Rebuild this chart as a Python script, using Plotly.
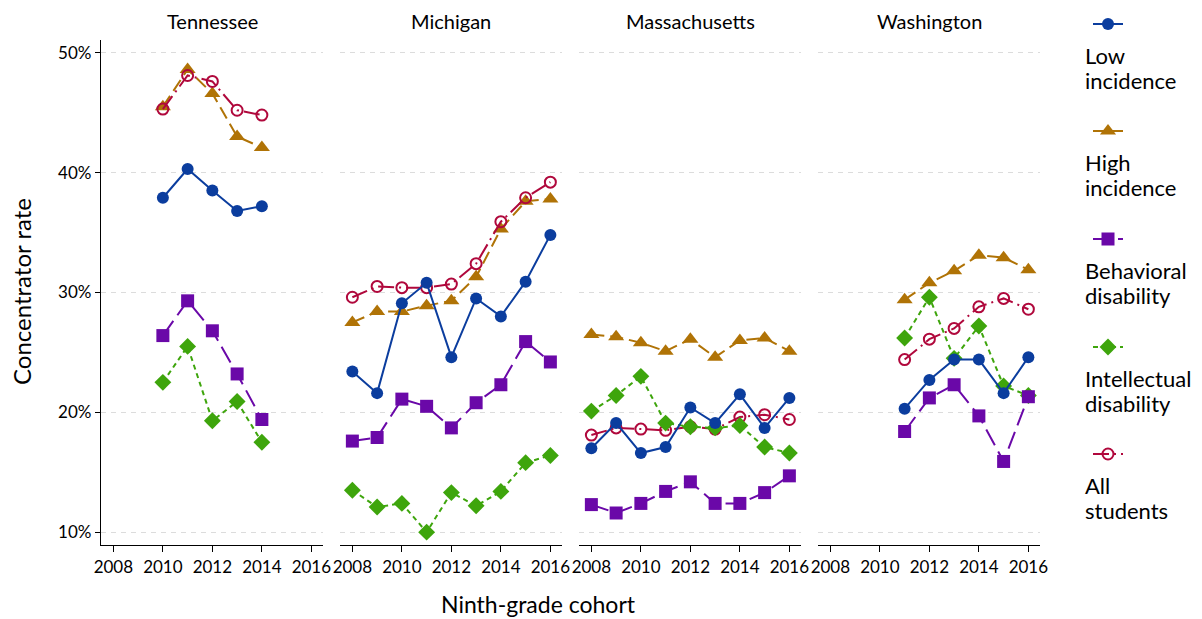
import plotly.graph_objects as go

# ---------------- data ----------------
states = ["Tennessee", "Michigan", "Massachusetts", "Washington"]

years_tn = [2010, 2011, 2012, 2013, 2014]
years_mi = [2008, 2009, 2010, 2011, 2012, 2013, 2014, 2015, 2016]
years_ma = [2008, 2009, 2010, 2011, 2012, 2013, 2014, 2015, 2016]
years_wa = [2011, 2012, 2013, 2014, 2015, 2016]

low_tn = [37.9, 40.3, 38.5, 36.8, 37.2]
high_tn = [45.5, 48.6, 46.6, 43.0, 42.1]
beh_tn = [26.4, 29.3, 26.8, 23.2, 19.4]
int_tn = [22.5, 25.5, 19.3, 20.9, 17.5]
all_tn = [45.3, 48.1, 47.6, 45.2, 44.8]

low_mi = [23.4, 21.6, 29.1, 30.8, 24.6, 29.5, 28.0, 30.9, 34.8]
high_mi = [27.5, 28.4, 28.4, 28.9, 29.3, 31.3, 35.3, 37.6, 37.8]
beh_mi = [17.6, 17.9, 21.1, 20.5, 18.7, 20.8, 22.3, 25.9, 24.2]
int_mi = [13.5, 12.1, 12.4, 10.0, 13.3, 12.2, 13.4, 15.8, 16.4]
all_mi = [29.6, 30.5, 30.4, 30.4, 30.7, 32.4, 35.9, 37.9, 39.2]

low_ma = [17.0, 19.1, 16.6, 17.1, 20.4, 19.1, 21.5, 18.7, 21.2]
high_ma = [26.5, 26.3, 25.8, 25.1, 26.1, 24.6, 26.0, 26.2, 25.1]
beh_ma = [12.3, 11.6, 12.4, 13.4, 14.2, 12.4, 12.4, 13.3, 14.7]
int_ma = [20.1, 21.4, 23.0, 19.1, 18.8, 18.7, 18.9, 17.1, 16.6]
all_ma = [18.1, 18.7, 18.6, 18.5, 18.8, 18.6, 19.6, 19.8, 19.4]

low_wa = [20.3, 22.7, 24.4, 24.4, 21.6, 24.6]
high_wa = [29.4, 30.8, 31.8, 33.1, 32.9, 31.9]
beh_wa = [18.4, 21.2, 22.3, 19.7, 15.9, 21.3]
int_wa = [26.2, 29.6, 24.5, 27.2, 22.2, 21.4]
all_wa = [24.4, 26.1, 27.0, 28.8, 29.5, 28.6]

series_names = ["Low incidence", "High incidence", "Behavioral disability",
                "Intellectual disability", "All students"]
legend_labels = [["Low", "incidence"], ["High", "incidence"], ["Behavioral", "disability"],
                 ["Intellectual", "disability"], ["All", "students"]]

panel_years = [years_tn, years_mi, years_ma, years_wa]
panel_values = [
    [low_tn, high_tn, beh_tn, int_tn, all_tn],
    [low_mi, high_mi, beh_mi, int_mi, all_mi],
    [low_ma, high_ma, beh_ma, int_ma, all_ma],
    [low_wa, high_wa, beh_wa, int_wa, all_wa],
]

y_ticks = [10, 20, 30, 40, 50]
y_ticktext = ["10%", "20%", "30%", "40%", "50%"]
x_ticks = [2008, 2010, 2012, 2014, 2016]

# ---------------- styles ----------------
colors = ["#0b3d9e", "#b07306", "#6a08a8", "#3ea50c", "#b0083c"]
dashes = ["solid", "13px,6px", "18px,7px", "5px,4px", "16px,5px,2px,5px"]
symbols = ["circle", "triangle-up", "square", "diamond", "circle-open"]
msizes = [12, 14, 13, 13, 11]

FONT = "Lato"

# pixel layout
W, H = 1202, 619
L, R, T, B = 101, 162, 40, 74
PW = W - L - R
PH = H - T - B


def px_x(p):
    return (p - L) / PW


def px_y(p):
    return 1 - (p - T) / PH


panel_w = 222
panel_step = 239

fig = go.Figure()

# drawing order (last on top)
draw_order = [1, 4, 3, 2, 0]
for k in range(4):
    xa = "x" if k == 0 else f"x{k+1}"
    ya = "y" if k == 0 else f"y{k+1}"
    for s in draw_order:
        fig.add_trace(go.Scatter(
            x=panel_years[k], y=panel_values[k][s],
            mode="lines+markers",
            name=" ",
            legend="legend" if s == 0 else f"legend{s+1}",
            showlegend=(k == 0),
            line=dict(color=colors[s], width=2, dash=dashes[s]),
            marker=dict(symbol=symbols[s], size=msizes[s], color=colors[s],
                        line=dict(color=colors[s], width=2 if s == 4 else 0)),
            xaxis=xa, yaxis=ya,
            hovertemplate=series_names[s] + " %{x}: %{y}%<extra></extra>",
        ))

layout = dict(
    width=W, height=H,
    margin=dict(l=L, r=R, t=T, b=B, autoexpand=False),
    paper_bgcolor="white", plot_bgcolor="white",
    font=dict(family=FONT, color="black", size=17),
    hovermode="closest",
)

for k in range(4):
    left = k * panel_step / PW
    right = (k * panel_step + panel_w) / PW
    xkey = "xaxis" if k == 0 else f"xaxis{k+1}"
    ykey = "yaxis" if k == 0 else f"yaxis{k+1}"
    layout[xkey] = dict(
        domain=[left, right], range=[2007.5, 2016.47],
        anchor="y" if k == 0 else f"y{k+1}",
        tickvals=x_ticks, ticktext=[str(v) for v in x_ticks],
        ticks="outside", ticklen=6, tickwidth=1.2, tickcolor="black",
        showline=True, linecolor="black", linewidth=1.3,
        showgrid=False, zeroline=False,
        tickfont=dict(size=17, family=FONT),
    )
    layout[ykey] = dict(
        domain=[0, 1], range=[8.93, 51.06],
        anchor="x" if k == 0 else f"x{k+1}",
        tickvals=y_ticks, ticktext=y_ticktext,
        showticklabels=(k == 0),
        ticks="outside" if k == 0 else "", ticklen=5, tickwidth=1.2, tickcolor="black",
        showline=(k == 0), linecolor="black", linewidth=1.3,
        showgrid=True, gridcolor="#dcdcdc", gridwidth=1, griddash="5px,5px",
        zeroline=False,
        tickfont=dict(size=17, family=FONT),
    )

# legends: one per series, keys stacked on the right
legend_sym_y = [23, 130, 238, 346, 453]
for s in range(5):
    key = "legend" if s == 0 else f"legend{s+1}"
    layout[key] = dict(
        x=px_x(1088), xanchor="left",
        y=px_y(legend_sym_y[s] + 1), yanchor="middle",
        bgcolor="rgba(0,0,0,0)", borderwidth=0,
        font=dict(size=12, family=FONT),
        itemwidth=30,
    )

annotations = []
for k, st in enumerate(states):
    cx = px_x(L + k * panel_step + panel_w / 2)
    annotations.append(dict(text=st, x=cx, y=px_y(21), xref="paper", yref="paper",
                            xanchor="center", yanchor="middle", showarrow=False,
                            font=dict(size=20, family=FONT)))

# legend labels: base size 19.2 gives a 25px line pitch, spans enlarge the glyphs
for s in range(5):
    txt = "<br>".join(f"<span style='font-size:22px'>{w}</span>" for w in legend_labels[s])
    annotations.append(dict(text=txt, x=px_x(1083), y=px_y(legend_sym_y[s] + 44.5),
                            xref="paper", yref="paper", xanchor="left", yanchor="middle",
                            align="left", showarrow=False,
                            font=dict(size=19.2, family=FONT)))

annotations.append(dict(text="Concentrator rate", x=px_x(21), y=px_y(292), xref="paper", yref="paper",
                        xanchor="center", yanchor="middle", textangle=-90, showarrow=False,
                        font=dict(size=24, family=FONT)))
annotations.append(dict(text="Ninth-grade cohort", x=px_x(538), y=px_y(604), xref="paper", yref="paper",
                        xanchor="center", yanchor="middle", showarrow=False,
                        font=dict(size=23, family=FONT)))
layout["annotations"] = annotations

fig.update_layout(**layout)
fig.write_html("out.html", config={"displayModeBar": False},
               post_script="document.body.style.margin='0';")
